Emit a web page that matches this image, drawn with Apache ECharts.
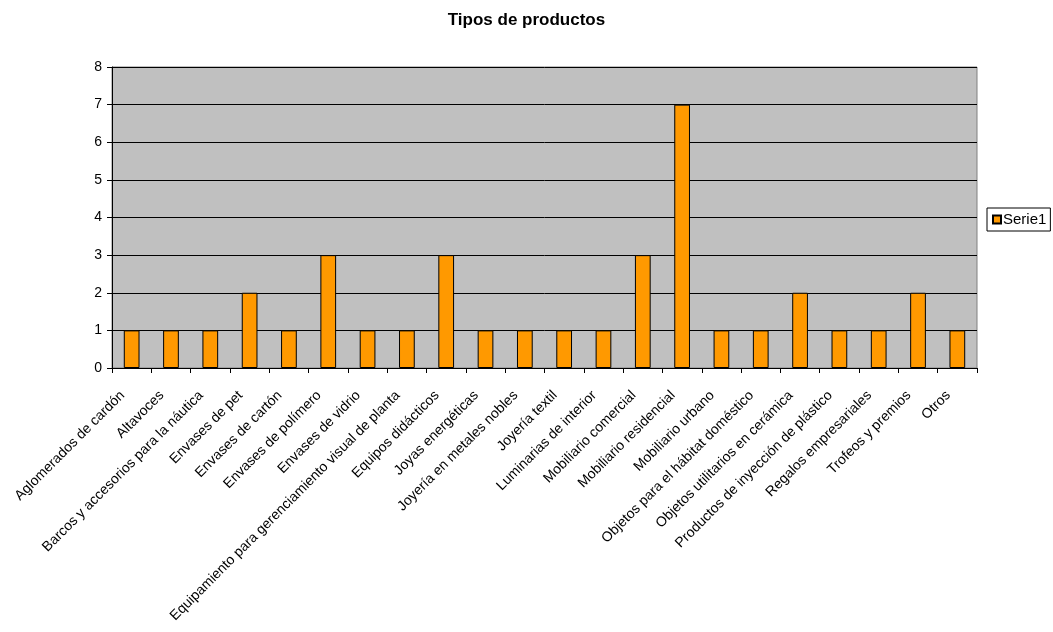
<!DOCTYPE html>
<html>
<head>
<meta charset="utf-8">
<style>
  html, body { margin: 0; padding: 0; background: #fff; }
  #chart { width: 1053px; height: 632px; }
</style>
<script src="https://cdn.jsdelivr.net/npm/echarts@6/dist/echarts.min.js"></script>
</head>
<body>
<div id="chart"></div>
<script>
// Product types and how many projects fall in each
const categories = [
  'Aglomerados de cardón',
  'Altavoces',
  'Barcos y accesorios para la náutica',
  'Envases de pet',
  'Envases de cartón',
  'Envases de polímero',
  'Envases de vidrio',
  'Equipamiento para gerenciamiento visual de planta',
  'Equipos didácticos',
  'Joyas energéticas',
  'Joyería en metales nobles',
  'Joyería textil',
  'Luminarias de interior',
  'Mobiliario comercial',
  'Mobiliario residencial',
  'Mobiliario urbano',
  'Objetos para el hábitat doméstico',
  'Objetos utilitarios en cerámica',
  'Productos de inyección de plástico',
  'Regalos empresariales',
  'Trofeos y premios',
  'Otros'
];
const serie1 = [1, 1, 1, 2, 1, 3, 1, 1, 3, 1, 1, 1, 1, 3, 7, 1, 1, 2, 1, 1, 2, 1];
const seriesName = 'Serie1';
const chartTitle = 'Tipos de productos';

const FONT = '"Liberation Sans", Arial, sans-serif';

const chart = echarts.init(document.getElementById('chart'), null, { renderer: 'canvas' });
chart.setOption({
  animation: false,
  backgroundColor: '#ffffff',
  textStyle: { fontFamily: FONT, color: '#000' },
  title: {
    text: chartTitle,
    left: 'center',
    top: 7,
    textStyle: { fontFamily: FONT, fontSize: 17, fontWeight: 'bold', color: '#000' }
  },
  legend: {
    data: [seriesName],
    left: 987,
    top: 208,
    orient: 'vertical',
    padding: [4, 4, 4, 5],
    borderColor: '#000',
    borderWidth: 1,
    itemWidth: 8,
    itemHeight: 8,
    itemGap: 2,
    icon: 'rect',
    textStyle: { fontFamily: FONT, fontSize: 15, color: '#000', padding: [0, 0, 0, -3] }
  },
  grid: {
    left: 112,
    right: 76,
    top: 67,
    bottom: 264,
    show: true,
    backgroundColor: '#C0C0C0',
    borderColor: '#808080',
    borderWidth: 1,
    containLabel: false
  },
  xAxis: {
    type: 'category',
    data: categories,
    boundaryGap: true,
    axisLine: { show: true, lineStyle: { color: '#000', width: 1 } },
    axisTick: { show: true, length: 5, inside: false, lineStyle: { color: '#000' } },
    axisLabel: {
      interval: 0,
      rotate: 45,
      margin: 16,
      padding: [0, 13, 0, 0],
      fontFamily: FONT,
      fontSize: 14,
      color: '#000'
    },
    splitLine: { show: false }
  },
  yAxis: {
    type: 'value',
    min: 0,
    max: 8,
    interval: 1,
    axisLine: { show: true, lineStyle: { color: '#000', width: 1 } },
    axisTick: { show: true, length: 5, inside: false, lineStyle: { color: '#000' } },
    axisLabel: { fontFamily: FONT, fontSize: 14, color: '#000', margin: 10 },
    splitLine: { show: true, lineStyle: { color: '#000', width: 1 } }
  },
  series: [{
    name: seriesName,
    type: 'bar',
    data: serie1,
    barCategoryGap: '60%',
    itemStyle: { color: '#FF9900', borderColor: '#000', borderWidth: 1 }
  }]
});
</script>
</body>
</html>
